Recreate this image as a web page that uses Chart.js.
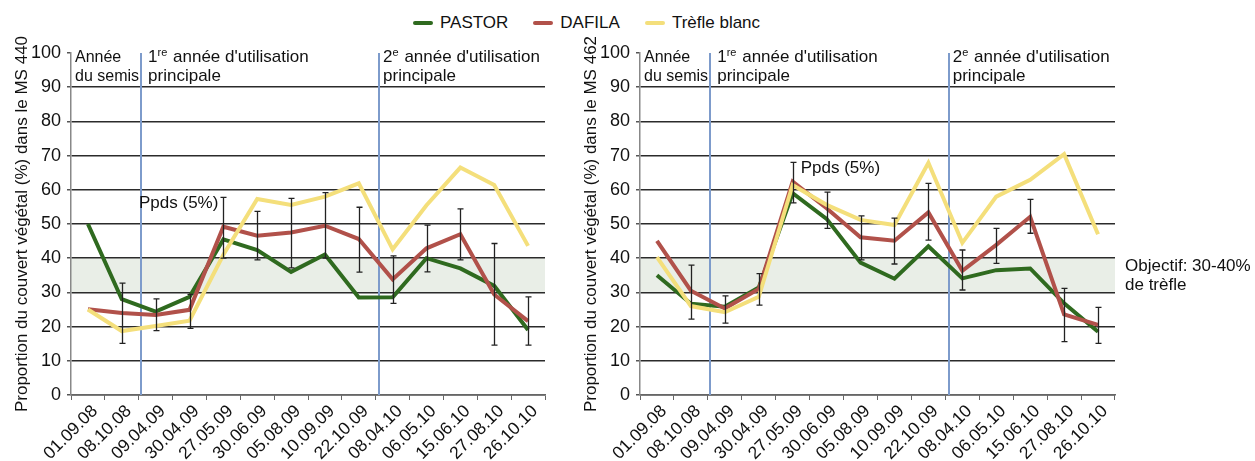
<!DOCTYPE html>
<html>
<head>
<meta charset="utf-8">
<script src="https://cdn.jsdelivr.net/npm/chart.js@4.4.0/dist/chart.umd.min.js"></script>
<style>
  body { margin: 0; width: 1255px; height: 461px; background: #fff; position: relative; overflow: hidden;
         font-family: 'Liberation Sans', Arial, sans-serif; }
  #c1 { position: absolute; left: 0; top: 0; }
  #c2 { position: absolute; left: 569px; top: 0; }
  #legend { position: absolute; top: 13px; left: 413px; display: flex; gap: 25px; font-size: 17px; color: #111; }
  .item { display: flex; align-items: center; }
  .sw { width: 20px; height: 4px; border-radius: 2px; margin-right: 7px; }
</style>
</head>
<body>
<div id="legend"></div>
<canvas id="c1" width="569" height="461"></canvas>
<canvas id="c2" width="686" height="461"></canvas>
<script>
// dates of the observations
const dates = ['01.09.08','08.10.08','09.04.09','30.04.09','27.05.09','30.06.09','05.08.09',
               '10.09.09','22.10.09','08.04.10','06.05.10','15.06.10','27.08.10','26.10.10'];
const seriesNames = ['PASTOR', 'DAFILA', 'Trèfle blanc'];
const seriesColors = ['#2f6a1f', '#b1514a', '#f4df7b'];

// MS 440
const pastor440 = [50, 28, 24.4, 28.7, 45.5, 42.4, 36, 41.1, 28.5, 28.6, 40, 37, 31.9, 19];
const dafila440 = [25.1, 24, 23.4, 24.9, 49.2, 46.6, 47.5, 49.5, 45.6, 33.8, 42.9, 47, 29.4, 21.6];
const trefle440 = [25, 18.7, 20.2, 21.7, 41, 57.3, 55.6, 58, 61.9, 42.6, 55.5, 66.5, 61.4, 43.6];
const errLow440  = [null, 15.1, 18.8, 19.5, 40, 39.5, 37.2, 40, 35.9, 26.8, 36, 39.5, 14.6, 14.6];
const errHigh440 = [null, 32.7, 28.1, 29.4, 57.8, 53.7, 57.5, 59.2, 54.9, 40.7, 49.7, 54.4, 44.3, 28.7];

// MS 462
const pastor462 = [35, 26.7, 25.8, 31.4, 59, 51.5, 38.7, 34, 43.5, 34.1, 36.5, 37, 26.8, 18.5];
const dafila462 = [45.1, 30.5, 25.3, 31, 62.4, 54.6, 46.1, 45.1, 53.4, 36.3, 43.9, 52.1, 23.6, 20.5];
const trefle462 = [40.3, 26, 24.2, 28.7, 61.4, 55.6, 51.2, 49.7, 67.9, 44.5, 58, 62.9, 70.4, 47];
const errLow462  = [null, 22.2, 21, 26.3, 56.2, 48.7, 39.5, 38.3, 45.3, 30.7, 38.5, 47.3, 15.6, 15.1];
const errHigh462 = [null, 38, 29, 35.5, 68, 59.3, 52.4, 51.7, 61.9, 42.4, 48.7, 57.2, 31.2, 25.6];

const objectif = [30, 40];
const yTicks = [0, 10, 20, 30, 40, 50, 60, 70, 80, 90, 100];

const FONT = "'Liberation Sans', Arial, sans-serif";

// legend
const lg = document.getElementById('legend');
seriesNames.forEach((n, i) => {
  const d = document.createElement('div');
  d.className = 'item';
  d.innerHTML = '<span class="sw" style="background:' + seriesColors[i] + '"></span><span>' + n + '</span>';
  lg.appendChild(d);
});

function drawParts(ctx, x, y, parts, size) {
  size = size || 17;
  parts.forEach(p => {
    ctx.font = (p.sup ? '11px ' : size + 'px ') + FONT;
    ctx.fillText(p.t, x, p.sup ? y - 6 : y);
    x += ctx.measureText(p.t).width + (p.sup ? 1 : 0);
  });
}

const extras = {
  id: 'extras',
  beforeDraw(chart) {
    const { ctx, chartArea: a, scales: { y } } = chart;
    const top = y.getPixelForValue(objectif[1]), bot = y.getPixelForValue(objectif[0]);
    ctx.save();
    ctx.fillStyle = '#e9eee7';
    ctx.fillRect(a.left, top, a.right - a.left, bot - top);
    ctx.restore();
  },
  beforeDatasetsDraw(chart, args, o) {
    const { ctx, chartArea: a, scales: { x } } = chart;
    ctx.save();
    ctx.strokeStyle = '#7d9bcb';
    ctx.lineWidth = 2;
    o.phases.forEach(v => {
      const px = Math.round(x.getPixelForValue(v));
      ctx.beginPath();
      ctx.moveTo(px, a.top);
      ctx.lineTo(px, a.bottom);
      ctx.stroke();
    });
    // phase texts
    ctx.fillStyle = '#111';
    ctx.textBaseline = 'alphabetic';
    const xs = [a.left + 4, x.getPixelForValue(o.phases[0]) + 7, x.getPixelForValue(o.phases[1]) + 4];
    drawParts(ctx, xs[0], a.top + 9, [{ t: 'Année' }], 16);
    drawParts(ctx, xs[0], a.top + 28, [{ t: 'du semis' }], 16);
    drawParts(ctx, xs[1], a.top + 9, [{ t: '1' }, { t: 're', sup: true }, { t: " année d'utilisation" }]);
    drawParts(ctx, xs[1], a.top + 28, [{ t: 'principale' }]);
    drawParts(ctx, xs[2], a.top + 9, [{ t: '2' }, { t: 'e', sup: true }, { t: " année d'utilisation" }]);
    drawParts(ctx, xs[2], a.top + 28, [{ t: 'principale' }]);
    ctx.restore();
  },
  afterDatasetsDraw(chart, args, o) {
    const { ctx, scales: { x, y } } = chart;
    ctx.save();
    ctx.strokeStyle = '#222';
    ctx.lineWidth = 1.3;
    o.low.forEach((lo, i) => {
      if (lo === null) return;
      const px = Math.round(x.getPixelForValue(i)) + 0.5;
      const y1 = y.getPixelForValue(lo), y2 = y.getPixelForValue(o.high[i]);
      ctx.beginPath();
      ctx.moveTo(px, y1); ctx.lineTo(px, y2);
      ctx.moveTo(px - 3, y1); ctx.lineTo(px + 3, y1);
      ctx.moveTo(px - 3, y2); ctx.lineTo(px + 3, y2);
      ctx.stroke();
    });
    // Ppds label next to the error bar of 27.05.09
    ctx.fillStyle = '#111';
    ctx.font = '17px ' + FONT;
    const bx = x.getPixelForValue(o.ppds.index), by = y.getPixelForValue(o.high[o.ppds.index]);
    ctx.textAlign = o.ppds.side === 'left' ? 'right' : 'left';
    ctx.fillText('Ppds (5%)', o.ppds.side === 'left' ? bx - 5 : bx + 8, by + 11);
    if (o.objectifText) {
      const cy = y.getPixelForValue((objectif[0] + objectif[1]) / 2);
      ctx.textAlign = 'left';
      ctx.fillText('Objectif: ' + objectif[0] + '-' + objectif[1] + '%', chart.chartArea.right + 10, cy - 4);
      ctx.fillText('de trèfle', chart.chartArea.right + 10, cy + 15);
    }
    ctx.restore();
  }
};

function makeChart(id, series, low, high, title, ppdsSide, rightPad, objectifText) {
  const order = [3, 2, 1];
  return new Chart(document.getElementById(id), {
    type: 'line',
    data: {
      labels: dates,
      datasets: series.map((d, i) => ({
        label: seriesNames[i], data: d, borderColor: seriesColors[i], backgroundColor: seriesColors[i],
        borderWidth: 4, pointRadius: 0, tension: 0, order: order[i]
      }))
    },
    options: {
      responsive: false, animation: false,
      layout: { padding: { top: 53, right: rightPad, left: 0, bottom: 0 } },
      plugins: {
        legend: { display: false }, tooltip: { enabled: false },
        extras: { phases: [1.57, 8.6], low: low, high: high,
                  ppds: { index: 4, side: ppdsSide }, objectifText: objectifText }
      },
      scales: {
        x: {
          offset: true,
          afterFit: s => { s.height = 66; },
          grid: { offset: true, drawOnChartArea: false, drawTicks: true, tickLength: 5, color: '#666' },
          border: { color: '#666', width: 1.5 },
          ticks: { autoSkip: false, minRotation: 45, maxRotation: 45, color: '#111',
                   font: { family: FONT, size: 17.5 }, padding: 1, labelOffset: 7 }
        },
        y: {
          min: 0, max: 100,
          afterFit: s => { s.width = 71; },
          afterBuildTicks: s => { s.ticks = yTicks.map(v => ({ value: v })); },
          grid: {
            color: c => (c.tick && c.tick.value === 100) ? 'rgba(0,0,0,0)' : '#2b2b2b',
            tickColor: '#555', tickLength: 4, lineWidth: 1.5
          },
          border: { color: '#888', width: 1.5 },
          ticks: { color: '#111', font: { family: FONT, size: 18 }, padding: 6 },
          title: { display: true, text: title, color: '#111', font: { family: FONT, size: 17 },
                   padding: { top: 12, bottom: 0 } }
        }
      }
    },
    plugins: [extras]
  });
}

makeChart('c1', [pastor440, dafila440, trefle440], errLow440, errHigh440,
          'Proportion du couvert végétal (%) dans le MS 440', 'left', 24, false);
makeChart('c2', [pastor462, dafila462, trefle462], errLow462, errHigh462,
          'Proportion du couvert végétal (%) dans le MS 462', 'right', 140, true);
</script>
</body>
</html>
